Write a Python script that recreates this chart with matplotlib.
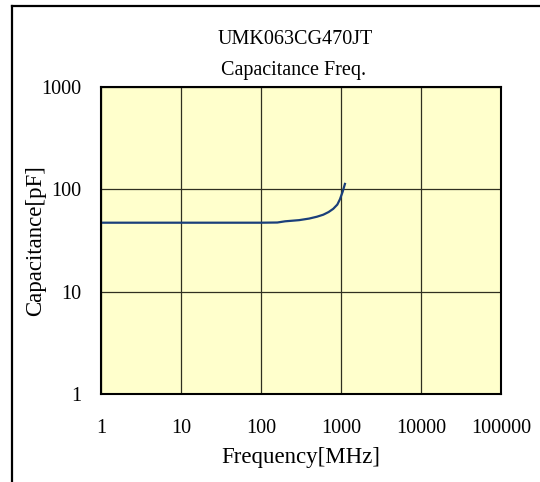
import matplotlib
matplotlib.use("Agg")
import matplotlib.pyplot as plt
from matplotlib.lines import Line2D

title_lines = ["UMK063CG470JT", "Capacitance Freq."]
x_label = "Frequency[MHz]"
y_label = "Capacitance[pF]"
x_ticks = [1, 10, 100, 1000, 10000, 100000]
x_tick_labels = ["1", "10", "100", "1000", "10000", "100000"]
y_ticks = [1, 10, 100, 1000]
y_tick_labels = ["1", "10", "100", "1000"]

freq_mhz = [1, 10, 100, 160, 200, 300, 400, 500, 600, 700, 800, 900, 970, 1050, 1120]
cap_pf = [47.2, 47.2, 47.2, 47.4, 48.7, 50.0, 51.8, 54.0, 56.5, 60.0, 64.5, 71.0, 80.0, 95.0, 113.0]

plt.rcParams['font.family'] = ['Liberation Serif', 'DejaVu Serif']

fig = plt.figure(figsize=(5.4, 4.82), dpi=100)
W, H = 540, 482
ax = fig.add_axes([101 / W, 1 - 394 / H, 400 / W, 307 / H])
ax.set_facecolor('#FFFFCC')
ax.set_xscale('log')
ax.set_yscale('log')
ax.set_xlim(1, 100000)
ax.set_ylim(1, 1000)
ax.plot(freq_mhz, cap_pf, color='#1a3f7a', lw=1.6)

ax.set_xticks(x_ticks)
ax.set_xticklabels(x_tick_labels)
ax.set_yticks(y_ticks)
ax.set_yticklabels(y_tick_labels)
ax.minorticks_off()
ax.tick_params(axis='both', length=0, labelsize=14.5)
ax.tick_params(axis='x', pad=18)
ax.tick_params(axis='y', pad=14)
ax.grid(True, color='#303020', lw=0.9)
for s in ax.spines.values():
    s.set_linewidth(1.5)
    s.set_color('black')

ax.set_xlabel(x_label, fontsize=16.5, va='center')
ax.set_ylabel(y_label, fontsize=16.5, va='center')
ax.xaxis.set_label_coords(0.5, (394 - 458) / 307)
ax.yaxis.set_label_coords((36 - 101) / 400, 0.5)

fig.text(295 / W, 1 - 40 / H, title_lines[0], ha='center', va='center', fontsize=14.5)
fig.text(294 / W, 1 - 70 / H, title_lines[1], ha='center', va='center', fontsize=14.5)

fig.add_artist(Line2D([12 / W, 12 / W], [0, 1 - 6 / H], color='black', lw=1.6, transform=fig.transFigure))
fig.add_artist(Line2D([12 / W, 1], [1 - 6 / H, 1 - 6 / H], color='black', lw=1.6, transform=fig.transFigure))

fig.savefig('out.png', dpi=100)
